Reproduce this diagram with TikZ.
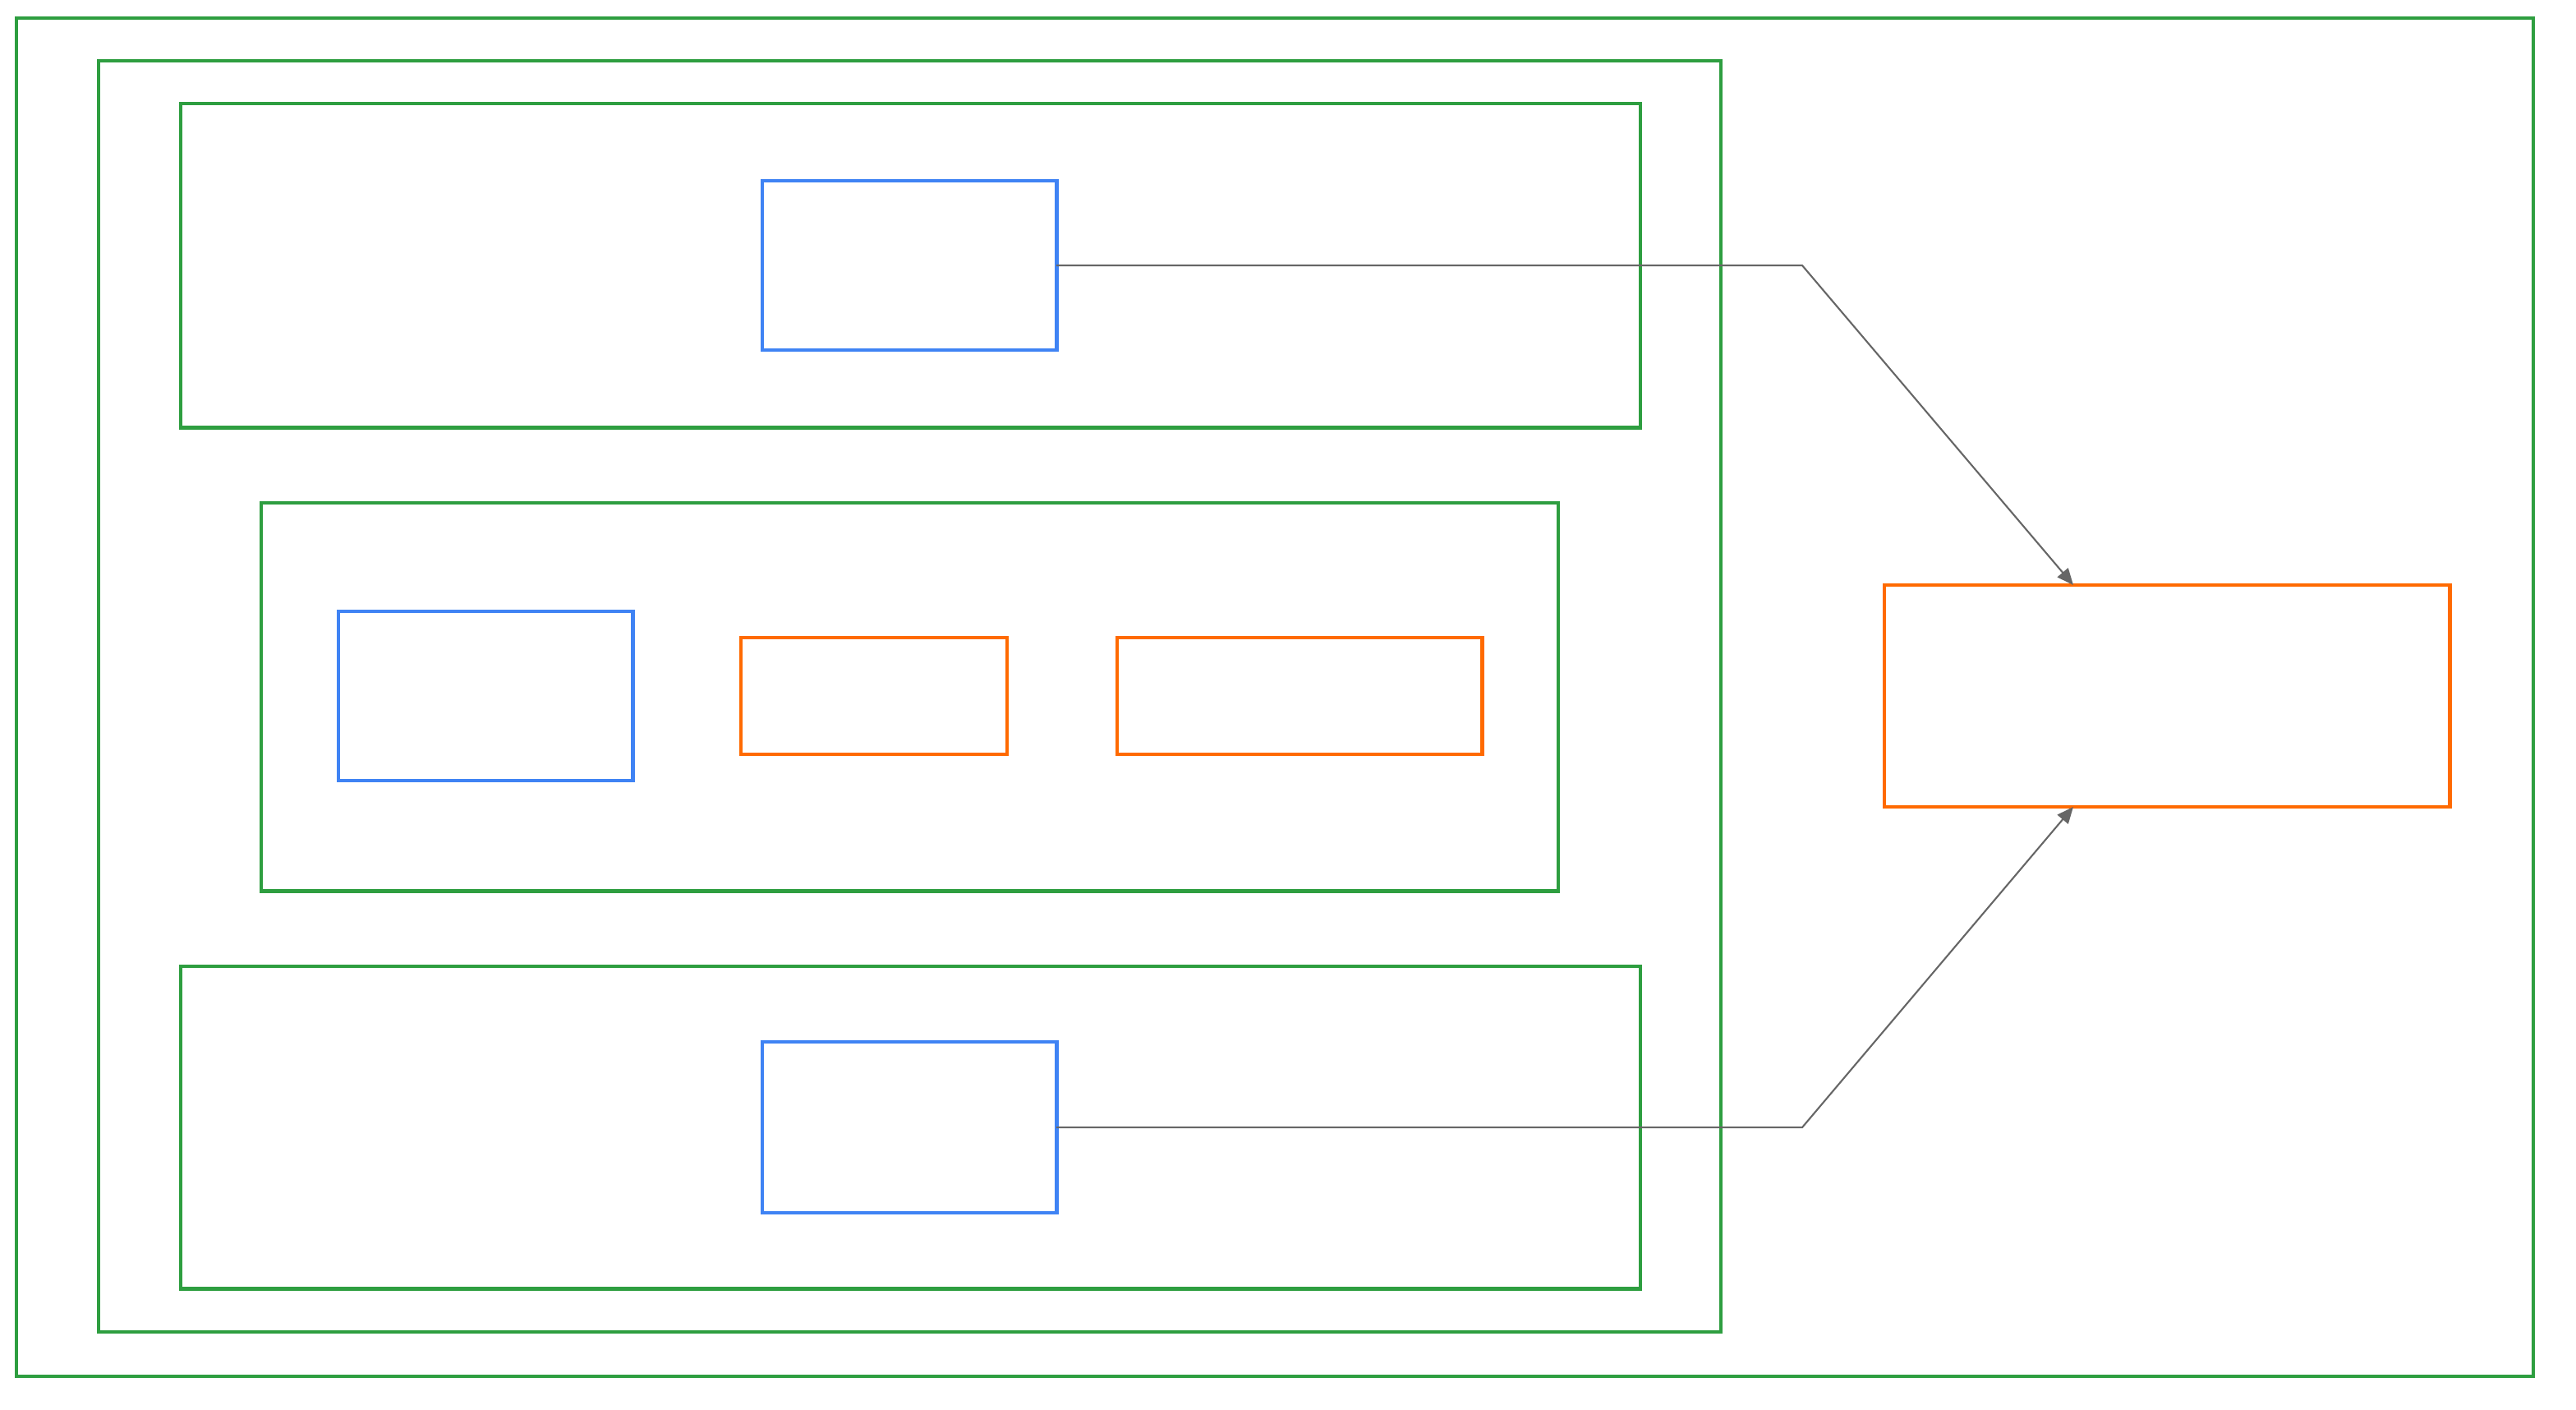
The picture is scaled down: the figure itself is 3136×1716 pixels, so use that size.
\documentclass[tikz,border=0pt]{standalone}
\usetikzlibrary{arrows.meta}
\definecolor{grn}{HTML}{2E9E40}
\definecolor{blu}{HTML}{3F83F4}
\definecolor{org}{HTML}{FF6A00}
\definecolor{gry}{HTML}{666666}
\begin{document}
\begin{tikzpicture}[x=0.01cm,y=-0.01cm,
  box/.style={draw,inner sep=0pt,outer sep=0pt,anchor=north west,line width=1.3pt},
  grp/.style={box,draw=grn},
  bnode/.style={box,draw=blu},
  onode/.style={box,draw=org},
  conn/.style={draw=gry,line width=0.6pt,-{Triangle[length=0.2cm,width=0.17cm]}}]
\useasboundingbox (0,0) rectangle (3136,1716);
\node[grp,minimum width=30.62cm,minimum height=16.52cm] (outer) at (20,22) {};
\node[grp,minimum width=19.74cm,minimum height=15.46cm] (big) at (120,74) {};
\node[grp,minimum width=17.76cm,minimum height=3.94cm] (top) at (220,126) {};
\node[grp,minimum width=15.78cm,minimum height=4.72cm] (mid) at (318,612) {};
\node[grp,minimum width=17.76cm,minimum height=3.92cm] (bot) at (220,1176) {};
\node[bnode,minimum width=3.58cm,minimum height=2.06cm] (btop) at (928,220) {};
\node[bnode,minimum width=3.58cm,minimum height=2.06cm] (bmid) at (412,744) {};
\node[onode,minimum width=3.24cm,minimum height=1.42cm] (o1) at (902,776) {};
\node[onode,minimum width=4.44cm,minimum height=1.42cm] (o2) at (1360,776) {};
\node[bnode,minimum width=3.58cm,minimum height=2.08cm] (bbot) at (928,1268) {};
\node[onode,minimum width=6.88cm,minimum height=2.70cm] (right) at (2294,712) {};
\coordinate (kx) at (2194,0);
\coordinate (t1) at (2524,712);
\coordinate (t2) at (2524,982);
\draw[conn] (btop.east) -- (btop.east -| kx) -- (t1);
\draw[conn] (bbot.east) -- (bbot.east -| kx) -- (t2);
\end{tikzpicture}
\end{document}
